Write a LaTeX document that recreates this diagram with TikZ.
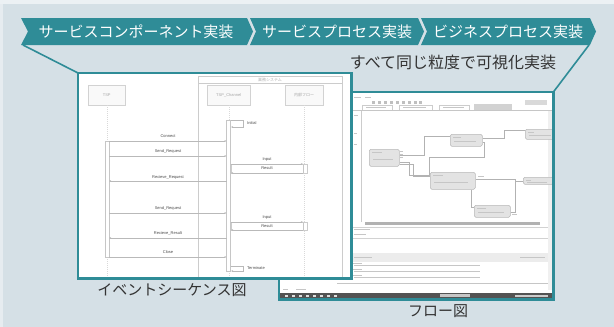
\documentclass[tikz,border=0pt]{standalone}
\usepackage{fontspec}
\newfontfamily\jp{Noto Sans CJK JP}
\newfontfamily\ui{Liberation Sans}
\usetikzlibrary{calc,arrows.meta}
\definecolor{bgc}{HTML}{D5E0E6}
\definecolor{banner}{HTML}{2F8C97}
\definecolor{txtc}{HTML}{333333}
\begin{document}
\begin{tikzpicture}[x=1pt,y=-1pt,
  bant/.style={text=white,font=\jp\fontsize{15}{15}\selectfont,inner sep=0},
  lbl/.style={text=txtc,font=\jp\fontsize{15}{15}\selectfont,inner sep=0},
  shotframe/.style={draw=banner,line width=2.2pt},
  tie/.style={draw=banner,line width=1.6pt},
  life/.style={draw=gray!35,fill=gray!5,minimum width=37,minimum height=20,inner sep=0,anchor=north west,font=\ui\fontsize{4}{4}\selectfont,text=gray!70},
  lifeline/.style={draw=gray!30,line width=0.4pt,dash pattern=on 1pt off 1pt},
  actbar/.style={draw=gray!45,fill=white,line width=0.4pt},
  msg/.style={draw=gray!55,line width=0.5pt,-{Stealth[length=2.2pt,width=1.8pt]}},
  mlbl/.style={font=\ui\fontsize{4}{4}\selectfont,text=gray!60!black,inner sep=0},
  fnode/.style={draw=gray!55,fill=gray!22,rounded corners=1.5pt,anchor=north west,inner sep=0,line width=0.5pt},
  fl/.style={draw=gray!60,line width=0.5pt},
  bar/.style={draw=gray!45,line width=0.7pt},
  dbar/.style={draw=gray!60,line width=0.9pt}]
\useasboundingbox (0,0) rectangle (614,327);
\fill[bgc] (0,0) rectangle (614,327);
\fill[bgc!45!white] (0,0) rectangle (614,4);
\fill[bgc!60!white] (0,4) rectangle (3,327);

% ---------------- banner ----------------
\fill[banner] (21,18) -- (247,18) -- (253,31.5) -- (247,45) -- (21,45) -- (28,31.5) -- cycle;
\fill[banner] (250,18) -- (418,18) -- (424,31.5) -- (418,45) -- (250,45) -- (256,31.5) -- cycle;
\fill[banner] (421,18) -- (590,18) -- (596,31.5) -- (590,45) -- (421,45) -- (427,31.5) -- cycle;
\node[bant] (b1) at (136,32) {サービスコンポーネント実装};
\node[bant] (b2) at (337,32) {サービスプロセス実装};
\node[bant] (b3) at (508,32) {ビジネスプロセス実装};
\coordinate (c1sw) at (23,45);
\coordinate (c3se) at (589,45);
\node[text=txtc,font=\jp\fontsize{16}{16}\selectfont,inner sep=0] (all) at (453,62) {すべて同じ粒度で可視化実装};

% ---------------- flow screenshot (behind) ----------------
\node[fill=white,minimum width=274,minimum height=207,inner sep=0,anchor=north west] (flow) at (279,92) {};
\begin{scope}
\clip (279,92) rectangle (553,299);
% menu / toolbar
\draw[bar] (354,97) -- (361,97); \draw[bar] (365,97) -- (371,97);
\foreach \x in {372,378,384,390,396,402,408,414,419} \fill[gray!50] (\x,101) rectangle ++(2.5,2.5);
\fill[gray!30] (525,100) rectangle (547,105);
% tabs
\draw[gray!40,line width=0.4pt] (362,105) rectangle (392,110);
\draw[gray!40,line width=0.4pt] (399,105) rectangle (432,110);
\draw[gray!40,line width=0.4pt] (439,105) rectangle (469,110);
\fill[gray!35] (474,104) rectangle (512,110);
\draw[bar] (366,107.5) -- (386,107.5); \draw[bar] (403,107.5) -- (426,107.5); \draw[bar] (443,107.5) -- (464,107.5);
\draw[gray!45,line width=0.5pt] (281,110.5) -- (553,110.5);
% left panel
\draw[gray!40,line width=0.4pt] (361,111) -- (361,222);
\draw[bar] (354,115) -- (358,115); \draw[bar] (354,133) -- (357,133); \draw[bar] (354,144) -- (357,144);
% right scroll
\fill[gray!12] (548,111) rectangle (553,290);
% flow nodes
\node[fnode,minimum width=30,minimum height=17] (nA) at (369,149) {};
\node[fnode,minimum width=32,minimum height=12] (nB) at (450,134) {};
\node[fnode,minimum width=30,minimum height=10] (nC) at (525,129) {};
\node[fnode,minimum width=45,minimum height=17] (nD) at (430,172) {};
\node[fnode,minimum width=30,minimum height=7] (nE) at (523,177) {};
\node[fnode,minimum width=36,minimum height=12] (nF) at (474,205) {};
\foreach \n/\a/\b in {nA/10/20,nB/8/22,nC/6/22,nD/10/34,nE/5/20,nF/9/26}{
  \draw[bar] ($(\n.north west)+(3,3)$) -- ++(\a,0);
  \draw[bar] ($(\n.west)+(4,1.5)$) -- ++(\b,0);
}
% flow connectors
\draw[fl] ($(nA.east)+(0,-3)$) -- ++(25,0) |- ($(nB.north west)+(0,2)$);
\draw[fl] ($(nB.east)+(0,-2)$) -- ++(22,0) |- ($(nC.north west)+(0,1.5)$);
\draw[fl] ($(nB.south east)+(0,-4)$) -- ++(2,0) -- ++(0,15) -| ($(nD.north west)+(-1,2)$) -- ($(nD.north west)+(0,2)$);
\draw[fl] ($(nA.south east)+(0,-4)$) -- ++(10,0) |- ($(nD.north west)+(0,3)$);
\draw[fl] ($(nA.south east)+(0,-2)$) -- ++(14,0) |- ($(nD.north west)+(0,4)$);
\draw[fl] ($(nD.east)+(0,-2)$) -- ++(40,0) |- (nE.west);
\draw[fl] ($(nF.east)+(0,1)$) -- ++(5,0) -- ++(0,-33.5);
\draw[fl] ($(nD.south)+(18,0)$) |- ($(nF.north west)+(0,2)$);
\draw[bar] (478,176) -- (484,176); \draw[bar] (512,214) -- (517,214);
\foreach \y in {151,154,157} \draw[bar] (400,\y) -- (403,\y);
% horizontal scroll & panels
\fill[gray!60] (365,222) rectangle (540,224.5);
\draw[gray!35,line width=0.4pt] (352,227) -- (548,227);
\draw[bar] (354,229.5) -- (370,229.5); \draw[bar] (354,234) -- (366,234);
\draw[gray!35,line width=0.4pt] (352,238) -- (548,238);
\fill[gray!15] (352,253) rectangle (548,261.5);
\draw[bar] (354,257) -- (372,257); \draw[bar] (520,257) -- (545,257);
\foreach \y in {265,271,277}{
  \draw[bar] (352,\y-2) -- (362,\y-2);
  \draw[bar] (354,\y) -- (480,\y);
}
\draw[gray!45,line width=0.6pt] (337,283) -- (548,283);
\draw[bar] (296,289) -- (306,289); \draw[bar] (283,289) -- (288,289);
\fill[gray!65!black] (279,293) rectangle (553,298);
\foreach \x in {285,292,299,306,313,320,327,334} \fill[gray!25] (\x,294.5) rectangle ++(3,2);
\fill[gray!45] (440,294) rectangle (470,297);
\fill[gray!40] (515,294.5) rectangle (548,296.5);
\end{scope}
\draw[shotframe] (flow.north west) rectangle (flow.south east);

% ---------------- sequence screenshot (front) ----------------
\node[fill=white,minimum width=273,minimum height=205,inner sep=0,anchor=north west] (seq) at (78,73) {};
\coordinate (bot) at (0,285);
\begin{scope}
\clip (78,73) rectangle (351,278);
\draw[gray!40,line width=0.5pt] (198,76) rectangle (342,290);
\draw[gray!40,line width=0.5pt] (198,83) -- (342,83);
\node[font=\jp\fontsize{4}{4}\selectfont,text=gray!60,inner sep=0] (sys) at (270,79.5) {業務システム};
\node[life] (tsp) at (88,85) {TSP};
\node[life,minimum width=43] (ch) at (207,85) {TSP\_Channel};
\node[life,minimum width=38] (inner) at (285,85) {\jp 内部フロー};
\draw[lifeline] (tsp.south) -- (tsp.south |- bot);
\draw[lifeline] (ch.south) -- (ch.south |- bot);
\draw[lifeline] (inner.south) -- (inner.south |- bot);
% activations
\draw[actbar] (105,141) rectangle (109,257);
\draw[actbar] (226.5,120) rectangle (230.5,271);
\draw[actbar] (303,164) rectangle (307,173);
\draw[actbar] (303,222) rectangle (307,230);
\draw[gray!40,line width=0.4pt] (231,164) rectangle (307,173);
\draw[gray!40,line width=0.4pt] (231,222) rectangle (307,230);
% self messages
\draw[msg] (230.5,120) -- (243,120) -- (243,127) -- (231,127);
\node[mlbl,anchor=west] (ini) at (247,123) {Initial};
\draw[msg] (230.5,266) -- (243,266) -- (243,271) -- (231,271);
\node[mlbl,anchor=west] (term) at (247,268) {Terminate};
% messages
\draw[msg] (109,141) -- (226.5,141); \node[mlbl] (m1) at (168,136.5) {Connect};
\draw[msg] (109,156) -- (226.5,156); \node[mlbl] (m2) at (168,151.5) {Send\_Request};
\draw[msg] (230.5,164) -- (303,164); \node[mlbl] (m3) at (267,160) {Input};
\draw[msg] (303,173) -- (231,173); \node[mlbl] (m4) at (267,168.5) {Result};
\draw[msg] (226.5,181) -- (109,181); \node[mlbl] (m5) at (168,177) {Recieve\_Request};
\draw[msg] (109,213) -- (226.5,213); \node[mlbl] (m6) at (168,208.5) {Send\_Request};
\draw[msg] (230.5,222) -- (303,222); \node[mlbl] (m7) at (267,218) {Input};
\draw[msg] (303,230) -- (231,230); \node[mlbl] (m8) at (267,226) {Result};
\draw[msg] (226.5,238) -- (109,238); \node[mlbl] (m9) at (168,233.5) {Recieve\_Result};
\draw[msg] (109,257) -- (226.5,257); \node[mlbl] (m10) at (168,252.5) {Close};
\end{scope}
\draw[shotframe] (seq.north west) rectangle (seq.south east);

% ---------------- ties ----------------
\draw[tie] (c1sw) -- (seq.north west);
\draw[tie] (c3se) -- (flow.north east);

% ---------------- captions ----------------
\node[lbl] (cap1) at (172,290) {イベントシーケンス図};
\node[lbl] (cap2) at (438,311) {フロー図};
\end{tikzpicture}
\end{document}
